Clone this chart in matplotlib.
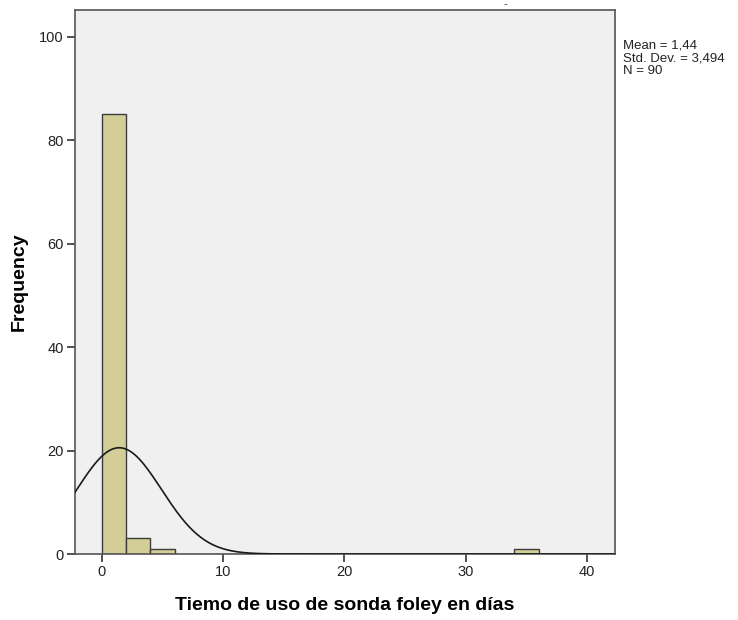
import numpy as np
import matplotlib.pyplot as plt

plt.rcParams['font.family'] = ['Liberation Sans', 'DejaVu Sans']

# --- datos ---
bin_left = [0, 2, 4, 34]       # borde izquierdo de cada barra (días)
frecuencia = [85, 3, 1, 1]
ancho_bin = 2
media = 1.44
desv = 3.494
n = 90
xticks = [0, 10, 20, 30, 40]
yticks = [0, 20, 40, 60, 80, 100]

# --- gráfica ---
fig = plt.figure(figsize=(7.38, 6.2), dpi=100)
ax = fig.add_axes([75/738, 66/620, 540/738, 544/620])
ax.set_facecolor('#f0f0f0')

ax.bar(bin_left, frecuencia, width=ancho_bin, align='edge',
       color='#d3ce97', edgecolor='#3c3c3c', linewidth=1.0, zorder=2)

# curva normal ajustada
xc = np.linspace(-2.2, 42.3, 400)
yc = n * ancho_bin / (desv * np.sqrt(2*np.pi)) * np.exp(-0.5*((xc - media)/desv)**2)
ax.plot(xc, yc, color='#1a1a1a', linewidth=1.2, zorder=3)

ax.set_xlim(-2.2, 42.3)
ax.set_ylim(0, 105.2)
ax.set_xticks(xticks)
ax.set_yticks(yticks)
ax.tick_params(direction='out', length=6, width=1.2, color='#333333',
               labelsize=10.5, labelcolor='#222222', pad=2)
for s in ax.spines.values():
    s.set_color('#555555')
    s.set_linewidth(1.2)

ax.set_xlabel('Tiemo de uso de sonda foley en días', fontsize=14,
              fontweight='bold', labelpad=13)
ax.set_ylabel('Frequency', fontsize=14, fontweight='bold', labelpad=8)

texto = (f'Mean = {media:.2f}\nStd. Dev. = {desv:.3f}\nN = {n}').replace('.', ',')
texto = texto.replace('Std, Dev,', 'Std. Dev.')
fig.text(623/738, 1 - 40/620, texto,
         fontsize=9.5, va='top', ha='left', color='#222222', linespacing=1.05)

# guion suelto arriba (resto del titulo)
fig.text(505/738, 1 - 4/620, '-', fontsize=8, ha='center', va='center', color='#333333')

fig.savefig('out.png', dpi=100, facecolor='white')
